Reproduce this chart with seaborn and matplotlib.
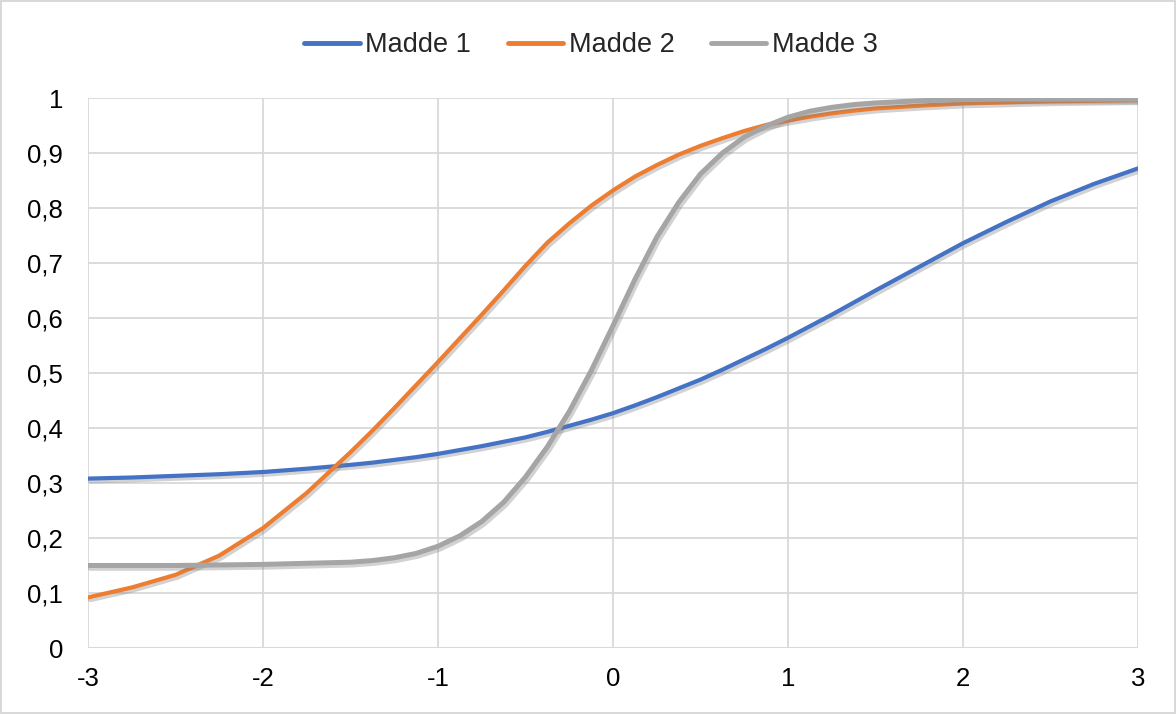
import pandas as pd
import matplotlib.pyplot as plt
import matplotlib.patheffects as pe
import seaborn as sns

# ability levels (theta) and item probabilities
theta = [-3, -2.75, -2.5, -2.25, -2, -1.75, -1.5,
         -1.375, -1.25, -1.125, -1, -0.875, -0.75, -0.625, -0.5, -0.375, -0.25, -0.125,
         0, 0.125, 0.25, 0.375, 0.5, 0.625, 0.75, 0.875, 1, 1.125, 1.25, 1.375,
         1.5, 1.75, 2, 2.25, 2.5, 2.75, 3]

madde_1 = [0.308, 0.310, 0.313, 0.316, 0.320, 0.326, 0.333,
           0.337, 0.342, 0.347, 0.353, 0.360, 0.367, 0.375, 0.383, 0.393, 0.404, 0.415,
           0.427, 0.441, 0.456, 0.472, 0.488, 0.506, 0.525, 0.544, 0.564, 0.585, 0.606, 0.628,
           0.650, 0.693, 0.736, 0.775, 0.812, 0.844, 0.872]

madde_2 = [0.092, 0.110, 0.133, 0.168, 0.218, 0.282, 0.356,
           0.395, 0.436, 0.478, 0.520, 0.563, 0.606, 0.650, 0.695, 0.737, 0.772, 0.804,
           0.832, 0.857, 0.878, 0.897, 0.913, 0.927, 0.940, 0.951, 0.959, 0.966, 0.972, 0.977,
           0.981, 0.986, 0.990, 0.992, 0.994, 0.995, 0.996]

madde_3 = [0.150, 0.150, 0.150, 0.151, 0.152, 0.154, 0.156,
           0.159, 0.164, 0.172, 0.185, 0.204, 0.230, 0.265, 0.311, 0.366, 0.430, 0.504,
           0.586, 0.670, 0.747, 0.810, 0.862, 0.900, 0.929, 0.949, 0.965, 0.976, 0.983, 0.988,
           0.991, 0.995, 0.997, 0.998, 0.998, 0.998, 0.998]

series_names = ['Madde 1', 'Madde 2', 'Madde 3']
colors = ['#4472C4', '#ED7D31', '#A5A5A5']

y_ticks = [0, 0.1, 0.2, 0.3, 0.4, 0.5, 0.6, 0.7, 0.8, 0.9, 1]
y_labels = ['0', '0,1', '0,2', '0,3', '0,4', '0,5', '0,6', '0,7', '0,8', '0,9', '1']
x_ticks = [-3, -2, -1, 0, 1, 2, 3]
x_labels = ['-3', '-2', '-1', '0', '1', '2', '3']

df = pd.DataFrame({'theta': theta, 'Madde 1': madde_1, 'Madde 2': madde_2, 'Madde 3': madde_3})
df_long = df.melt('theta', var_name='Madde', value_name='P')

sns.set_style('white')
plt.rcParams['font.family'] = ['Liberation Sans', 'DejaVu Sans']

fig = plt.figure(figsize=(11.76, 7.14), dpi=100)
fig.patch.set_edgecolor('#D9D9D9')
fig.patch.set_linewidth(1.5)
ax = fig.add_axes([88 / 1176, 66 / 714, 1050 / 1176, 550 / 714])

sns.lineplot(data=df_long, x='theta', y='P', hue='Madde', hue_order=series_names,
             palette=dict(zip(series_names, colors)), linewidth=3, ax=ax, legend=False)

# excel style soft shadow under each curve
for line in ax.lines:
    line.set_solid_capstyle('round')
    line.set_solid_joinstyle('round')
    line.set_path_effects([pe.SimpleLineShadow(offset=(1.5, -2), shadow_color='#7f7f7f', alpha=0.35),
                           pe.Normal()])
ax.lines[2].set_linewidth(3.6)

ax.set_xlim(-3, 3)
ax.set_ylim(0, 1)
ax.set_xticks(x_ticks)
ax.set_xticklabels(x_labels)
ax.set_yticks(y_ticks)
ax.set_yticklabels(y_labels)
ax.tick_params(axis='y', labelsize=18.5, pad=18, length=0, colors='#000000')
ax.tick_params(axis='x', labelsize=18.5, pad=14, length=0, colors='#000000')
ax.set_xlabel('')
ax.set_ylabel('')
ax.grid(True, color='#D9D9D9', linewidth=1.3)
ax.set_axisbelow(True)
for s in ax.spines.values():
    s.set_visible(False)
ax.axhline(0, color='#D9D9D9', linewidth=1.5, zorder=0)

handles = [plt.Line2D([], [], color=c, linewidth=3.5, solid_capstyle='round') for c in colors]
fig.legend(handles, series_names, loc='center', bbox_to_anchor=(591 / 1176, 1 - 45 / 714),
           ncol=3, frameon=False, fontsize=19.5, handlelength=2.05, handletextpad=0.2,
           columnspacing=1.35)

fig.savefig('out.png', dpi=100)
